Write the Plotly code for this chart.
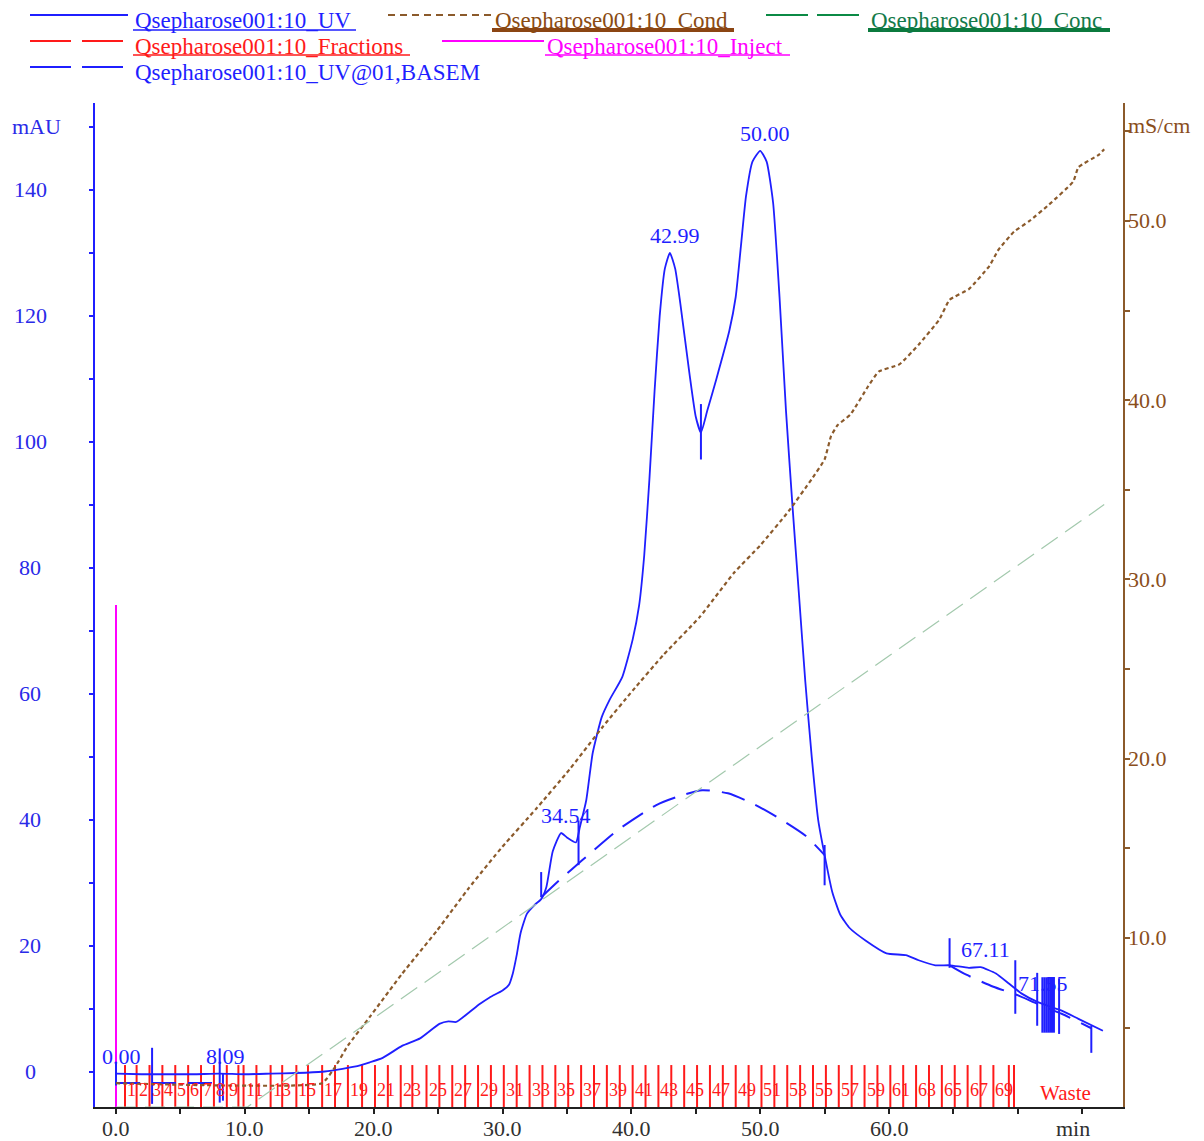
import plotly.graph_objects as go

# ---------------- run data ----------------
# UV 280 nm absorbance (mAU) against retention time (min)
uv_time = [0.0, 2.0, 4.0, 6.0, 8.0, 10.0, 12.0, 14.0, 16.0, 17.1, 18.5, 19.7, 20.7, 22.2, 23.6,
           25.1, 25.8, 26.4, 27.4, 28.2, 29.0, 30.0, 30.5, 30.8, 31.1, 31.4, 31.9, 32.5, 33.0,
           33.4, 33.9, 34.54, 35.0, 35.7, 36.0, 36.5, 37.0, 37.7, 38.3, 39.3, 40.1, 40.6, 41.0,
           41.4, 41.8, 42.2, 42.6, 42.99, 43.4, 43.8, 44.5, 45.0, 45.4, 45.9, 46.6, 47.6, 48.1,
           48.5, 48.9, 49.4, 50.0, 50.5, 51.0, 51.5, 52.0, 52.5, 53.0, 53.5, 54.0, 54.5, 55.0,
           55.6, 56.2, 56.9, 58.2, 59.8, 61.3, 62.3, 63.6, 64.7, 66.2, 67.11, 68.3, 69.3, 70.3,
           71.6, 73.4, 74.7, 76.6]
uv_mau = [-0.3, -0.4, -0.4, -0.4, -0.3, -0.4, -0.3, -0.2, 0.0, 0.3, 0.8, 1.5, 2.2, 4.1, 5.3,
          7.6, 8.0, 7.9, 9.4, 10.7, 11.8, 12.9, 13.8, 15.6, 18.5, 22.0, 25.1, 26.5, 27.4,
          29.3, 35.0, 37.9, 37.2, 36.4, 38.8, 43.1, 50.6, 56.3, 59.0, 62.7, 68.6, 74.0, 82.0,
          94.0, 108.0, 120.0, 127.5, 130.0, 127.5, 122.0, 111.0, 104.0, 101.5, 105.0, 110.0, 117.6, 123.0,
          131.0, 139.0, 144.5, 146.2, 144.5, 138.0, 123.0, 105.0, 90.0, 76.0, 62.0, 50.0, 40.0, 34.4,
          28.5, 25.0, 22.9, 20.8, 18.8, 18.5, 17.7, 16.9, 16.9, 16.5, 16.6, 15.6, 14.0, 12.4,
          11.0, 9.7, 8.4, 6.5]

# Conductivity (mS/cm)
cond_time = [0.0, 16.0, 17.0, 18.0, 19.7, 22.2, 24.9, 27.4, 30.0, 32.6, 35.2, 37.8, 40.1, 42.5,
             45.3, 48.0, 50.0, 52.2, 54.0, 55.0, 55.5, 56.0, 57.0, 58.4, 59.2, 60.8, 62.3, 63.9,
             64.7, 66.2, 67.8, 68.5, 69.7, 70.9, 72.4, 74.3, 74.7, 76.3, 76.7]
cond_ms = [1.9, 1.9, 2.8, 4.0, 5.6, 8.0, 10.4, 12.8, 15.1, 17.2, 19.4, 21.8, 23.8, 25.8,
           27.9, 30.4, 31.9, 33.8, 35.6, 36.7, 38.0, 38.6, 39.2, 40.8, 41.6, 42.0, 43.1, 44.5,
           45.6, 46.2, 47.5, 48.4, 49.4, 50.0, 50.9, 52.2, 53.0, 53.7, 54.0]

# Buffer B concentration (%)
conc_time = [0.0, 10.2, 76.7]
conc_pct = [0.0, 0.0, 60.0]

# Injection mark
inject_time = 0.0
inject_level = 74.1

# Integration baseline (mAU), segments separated by None
base_time = [0.0, 8.1, None,
             33.0, 34.4, 36.2, 38.9, 41.9, 43.5, 45.5, 47.5, 49.5, 51.5, 53.5, 55.0, None,
             64.7, 66.0, 68.1, 69.8, 71.6, 73.4, 75.7]
base_mau = [-1.8, -1.8, None,
            27.7, 30.4, 33.6, 38.3, 42.3, 43.6, 44.7, 44.2, 42.5, 40.2, 37.5, 34.4, None,
            16.9, 15.4, 13.5, 12.3, 10.7, 9.2, 6.9]

# Peak retention times and apex heights
peak_time = [0.00, 8.09, 34.54, 42.99, 50.00, 67.11, 71.55]
peak_mau = [-0.3, -0.3, 37.9, 130.0, 146.2, 16.6, 11.2]
peak_text = ["0.00", "8.09", "34.54", "42.99", "50.00", "67.11", "71.55"]

# Peak integration limits (time, upper end, lower end in mAU)
limit_time = [0.0, 2.8, 8.05, 8.3, 33.0, 35.9, 45.4, 55.0, 64.7, 69.8, 71.5,
              71.9, 72.05, 72.2, 72.35, 72.5, 72.65, 72.8, 73.2, 75.7]
limit_top = [1.3, 3.8, 3.7, -0.3, 31.7, 39.9, 106.0, 36.0, 21.2, 17.7, 15.7,
             15.0, 15.0, 15.0, 15.0, 15.0, 15.0, 15.0, 14.8, 7.3]
limit_bottom = [-2.2, -5.1, -4.9, -4.6, 27.7, 32.8, 97.2, 29.6, 16.5, 9.2, 7.3,
                6.2, 6.2, 6.2, 6.2, 6.2, 6.2, 6.2, 6.0, 3.0]

# Fraction collector: start time of each fraction, then waste
frac_start = [0.7, 1.6, 2.6, 3.6, 4.6, 5.6, 6.6, 7.6, 8.6, 9.5,
              9.9, 10.9, 12.0, 12.9, 14.0, 14.9, 16.0, 17.0, 18.0, 19.1,
              20.1, 21.1, 22.1, 23.0, 24.1, 25.1, 26.1, 27.1, 28.1, 29.1,
              30.1, 31.1, 32.1, 33.1, 34.1, 35.1, 36.1, 37.1, 38.1, 39.1,
              40.1, 41.1, 42.1, 43.1, 44.1, 45.1, 46.1, 47.1, 48.1, 49.1,
              50.1, 51.1, 52.1, 53.1, 54.1, 55.1, 56.1, 57.1, 58.1, 59.1,
              60.1, 61.1, 62.1, 63.1, 64.1, 65.1, 66.1, 67.1, 68.1, 69.3]
frac_label = [str(n) for n in range(1, 71)]
waste_start = 69.7

# Axis ticks
x_tick_vals = [0, 10, 20, 30, 40, 50, 60]
x_tick_text = ["0.0", "10.0", "20.0", "30.0", "40.0", "50.0", "60.0"]
uv_tick_vals = [0, 20, 40, 60, 80, 100, 120, 140]
cond_tick_vals = [10, 20, 30, 40, 50]

legend_names = ["Qsepharose001:10_UV", "Qsepharose001:10_Cond", "Qsepharose001:10_Conc",
                "Qsepharose001:10_Fractions", "Qsepharose001:10_Inject",
                "Qsepharose001:10_UV@01,BASEM"]

# ---------------- styling ----------------
FONT = "Liberation Serif"
BLUE = "#1f1fff"
BROWN = "#8b5a2b"
GREEN_PALE = "#a3c9ad"
RED = "#ff1a1a"
MAGENTA = "#ff00ff"
AXIS_FS = 22

X_RANGE = [-1.63, 78.16]
Y_RANGE = [-5.6, 153.8]
Y2_RANGE = [0.572, 56.58]

L, R, T, B = 95, 81, 103, 34
W, H = 1204, 1141
PW, PH = W - L - R, H - T - B


def px_x(px):
    return (px - L) / PW


def px_y(py):
    return (H - B - py) / PH


fig = go.Figure()

# Concentration
fig.add_trace(go.Scatter(x=conc_time, y=conc_pct, yaxis="y3", mode="lines",
                         line=dict(color=GREEN_PALE, width=1.2, dash="20px,9px")))

# Conductivity
fig.add_trace(go.Scatter(x=cond_time, y=cond_ms, yaxis="y2", mode="lines",
                         line=dict(color=BROWN, width=2.2, dash="4px,3px", shape="spline", smoothing=0.4)))

# Fraction marks
fx, fy = [], []
for t in frac_start + [waste_start]:
    fx += [t, t, None]
    fy += [Y_RANGE[0], 1.06, None]
fig.add_trace(go.Scatter(x=fx, y=fy, mode="lines", line=dict(color=RED, width=2)))

# Injection
fig.add_trace(go.Scatter(x=[inject_time, inject_time], y=[Y_RANGE[0], inject_level], mode="lines",
                         line=dict(color=MAGENTA, width=2)))

# Baseline
fig.add_trace(go.Scatter(x=base_time, y=base_mau, mode="lines", connectgaps=False,
                         line=dict(color=BLUE, width=2, dash="24px,12px", shape="spline", smoothing=0.6)))

# UV
fig.add_trace(go.Scatter(x=uv_time, y=uv_mau, mode="lines",
                         line=dict(color=BLUE, width=1.8, shape="spline", smoothing=0.5)))

# Integration limit ticks
lx, ly = [], []
for t, a, b in zip(limit_time, limit_top, limit_bottom):
    lx += [t, t, None]
    ly += [a, b, None]
fig.add_trace(go.Scatter(x=lx, y=ly, mode="lines", line=dict(color=BLUE, width=2)))

ann = []

# Peak labels
for t, v, s in zip(peak_time, peak_mau, peak_text):
    ann.append(dict(x=t, y=v, xref="x", yref="y", text=s, showarrow=False,
                    xanchor="center", yanchor="bottom", xshift=5, yshift=3,
                    font=dict(family=FONT, size=22, color=BLUE)))

# Fraction labels
for t, s in zip(frac_start, frac_label):
    n = int(s)
    if n < 10 or (n >= 11 and n % 2 == 1):
        ann.append(dict(x=t, y=-2.9, xref="x", yref="y", text=s, showarrow=False,
                        xanchor="left", yanchor="middle", xshift=0,
                        font=dict(family=FONT, size=18, color=RED)))
ann.append(dict(x=waste_start, y=-3.3, xref="x", yref="y", text="Waste", showarrow=False,
                xanchor="left", yanchor="middle", xshift=24,
                font=dict(family=FONT, size=21, color=RED)))

# Axis labels
for v in uv_tick_vals:
    ann.append(dict(x=px_x(30), y=v, xref="paper", yref="y", text=str(v), showarrow=False,
                    xanchor="center", yanchor="middle",
                    font=dict(family=FONT, size=AXIS_FS, color="#2a2ae8")))
ann.append(dict(x=px_x(10), y=150, xref="paper", yref="y", text="mAU", showarrow=False,
                xanchor="left", yanchor="middle", font=dict(family=FONT, size=AXIS_FS, color="#2a2ae8")))
for v in cond_tick_vals:
    ann.append(dict(x=px_x(1126), y=v, xref="paper", yref="y2", text=f"{v:.1f}", showarrow=False,
                    xanchor="left", yanchor="middle",
                    font=dict(family=FONT, size=AXIS_FS, color="#8a4e1c")))
ann.append(dict(x=px_x(1126), y=55.3, xref="paper", yref="y2", text="mS/cm", showarrow=False,
                xanchor="left", yanchor="middle", font=dict(family=FONT, size=AXIS_FS, color="#8a4e1c")))
for v, s in zip(x_tick_vals, x_tick_text):
    ann.append(dict(x=v, y=px_y(1128), xref="x", yref="paper", text=s, showarrow=False,
                    xanchor="center", yanchor="middle", borderpad=0,
                    font=dict(family=FONT, size=AXIS_FS, color="#303030")))
ann.append(dict(x=px_x(1073), y=px_y(1128), xref="paper", yref="paper", text="min", showarrow=False,
                xanchor="center", yanchor="middle", borderpad=0,
                font=dict(family=FONT, size=AXIS_FS, color="#303030")))

# Legend block
shapes = []
legend_spec = [
    # sample line (x0, x1, y, color, dash), text (x, y, color), underline (x0, x1, y, width, color)
    ((30, 128, 15, BLUE, "solid"), (133, 20, BLUE), (133, 356, 30, 1.5, BLUE)),
    ((388, 493, 15, BROWN, "7px,5px"), (493, 20, "#8a4b12"), (492, 734, 30, 4, "#8b4513")),
    ((766, 860, 15, "#0b8a45", "42px,9px"), (869, 20, "#137a4a"), (868, 1110, 30, 4, "#0b7a3e")),
    ((30, 126, 41, RED, "41px,11px"), (133, 46, RED), (133, 410, 55, 1.5, RED)),
    ((442, 544, 41, MAGENTA, "solid"), (545, 46, MAGENTA), (545, 790, 55, 1.5, MAGENTA)),
    ((30, 126, 67, BLUE, "41px,11px"), (133, 72, BLUE), None),
]
for name, (smp, txt, ul) in zip(legend_names, legend_spec):
    x0, x1, y, c, d = smp
    shapes.append(dict(type="line", xref="paper", yref="paper", x0=px_x(x0), x1=px_x(x1),
                       y0=px_y(y), y1=px_y(y), line=dict(color=c, width=2, dash=d)))
    tx, ty, tc = txt
    ann.append(dict(x=px_x(tx), y=px_y(ty), xref="paper", yref="paper", text=name, showarrow=False,
                    xanchor="left", yanchor="middle", font=dict(family=FONT, size=23, color=tc)))
    if ul:
        u0, u1, uy, uw, uc = ul
        shapes.append(dict(type="line", xref="paper", yref="paper", x0=px_x(u0), x1=px_x(u1),
                           y0=px_y(uy), y1=px_y(uy), line=dict(color=uc, width=uw)))

fig.update_layout(
    width=W, height=H,
    margin=dict(l=L, r=R, t=T, b=B),
    paper_bgcolor="white", plot_bgcolor="white",
    showlegend=False,
    font=dict(family=FONT, size=21),
    xaxis=dict(range=X_RANGE, showgrid=False, zeroline=False, showline=True,
               linecolor="#202020", linewidth=1.5, ticks="outside", ticklen=5, tickwidth=1.5,
               tickcolor="#202020", tick0=0, dtick=5, showticklabels=False),
    yaxis=dict(range=Y_RANGE, showgrid=False, zeroline=False, showline=True,
               linecolor=BLUE, linewidth=2, ticks="outside", ticklen=4, tickwidth=1.5,
               tickcolor=BLUE, tick0=0, dtick=10, showticklabels=False),
    yaxis2=dict(range=Y2_RANGE, overlaying="y", side="right", showgrid=False, zeroline=False,
                showline=True, linecolor=BROWN, linewidth=2, ticks="outside", ticklen=5,
                tickwidth=1.5, tickcolor=BROWN, tick0=0, dtick=5, showticklabels=False),
    yaxis3=dict(range=[0, 100], overlaying="y", visible=False),
    annotations=ann,
    shapes=shapes,
)

fig.write_html("out.html")
